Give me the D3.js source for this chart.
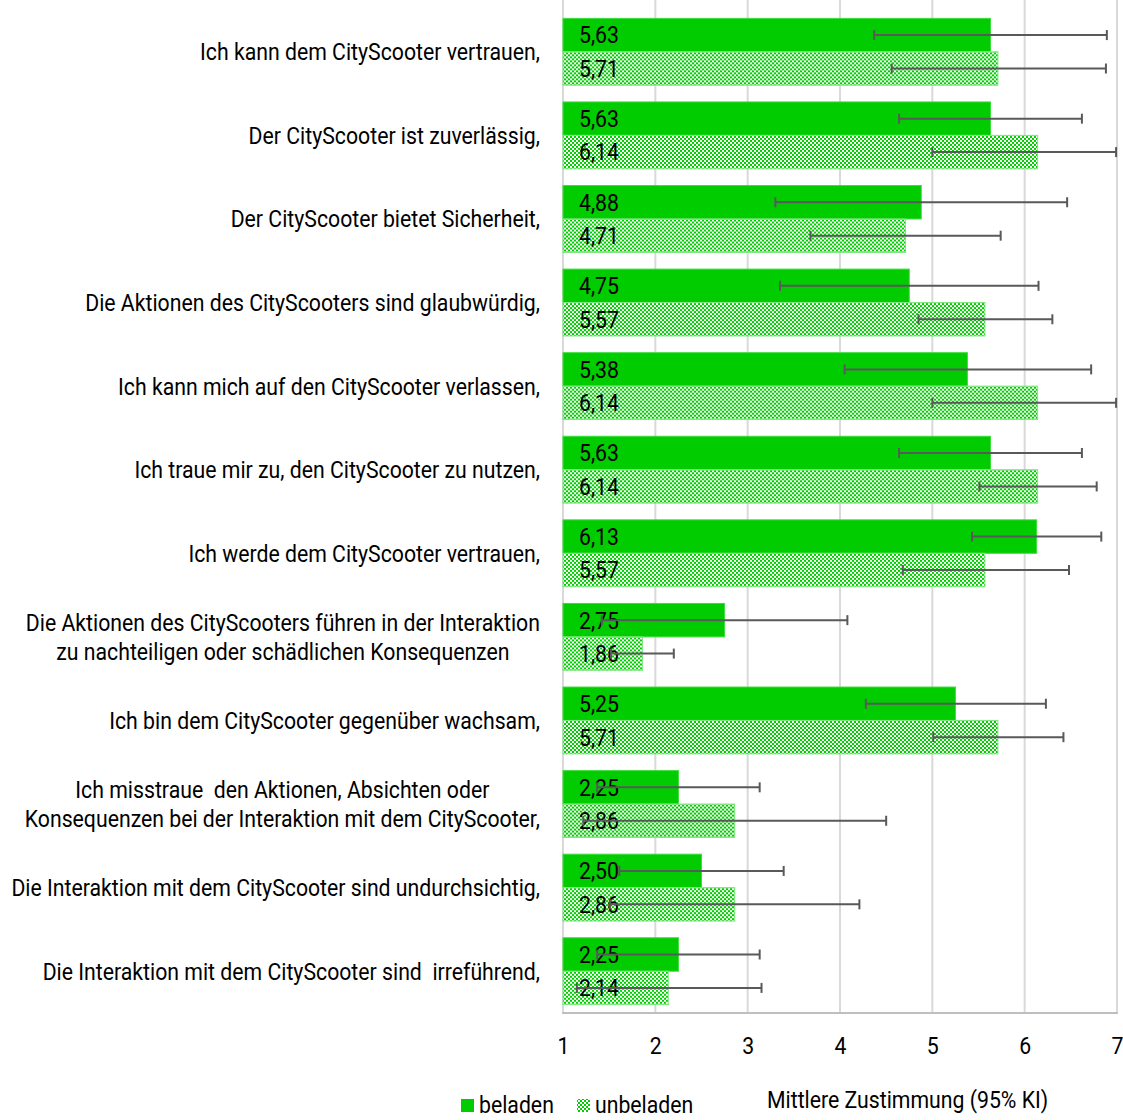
<!DOCTYPE html>
<html><head><meta charset="utf-8">
<script src="https://cdn.jsdelivr.net/npm/d3@7"></script>
<style>
body{margin:0;background:#fff;}
text{font-family:Roboto,"Noto Sans",sans-serif;white-space:pre;}
</style></head>
<body><svg id="chart" width="1123" height="1120"></svg>
<script>
const categories = [
  ["Ich kann dem CityScooter vertrauen,"],
  ["Der CityScooter ist zuverlässig,"],
  ["Der CityScooter bietet Sicherheit,"],
  ["Die Aktionen des CityScooters sind glaubwürdig,"],
  ["Ich kann mich auf den CityScooter verlassen,"],
  ["Ich traue mir zu, den CityScooter zu nutzen,"],
  ["Ich werde dem CityScooter vertrauen,"],
  ["Die Aktionen des CityScooters führen in der Interaktion","zu nachteiligen oder schädlichen Konsequenzen"],
  ["Ich bin dem CityScooter gegenüber wachsam,"],
  ["Ich misstraue  den Aktionen, Absichten oder","Konsequenzen bei der Interaktion mit dem CityScooter,"],
  ["Die Interaktion mit dem CityScooter sind undurchsichtig,"],
  ["Die Interaktion mit dem CityScooter sind  irreführend,"]
];
const seriesNames = ["beladen","unbeladen"];
const beladen      = [5.63,5.63,4.88,4.75,5.38,5.63,6.13,2.75,5.25,2.25,2.50,2.25];
const beladenLow   = [4.37,4.64,3.30,3.35,4.05,4.64,5.43,1.42,4.28,1.37,1.61,1.37];
const beladenHigh  = [6.89,6.62,6.46,6.15,6.72,6.62,6.83,4.08,6.23,3.13,3.39,3.13];
const unbeladen    = [5.71,6.14,4.71,5.57,6.14,6.14,5.57,1.86,5.71,2.86,2.86,2.14];
const unbeladenLow = [4.56,5.00,3.68,4.85,5.00,5.51,4.68,1.52,5.01,1.22,1.51,1.15];
const unbeladenHigh= [6.88,6.99,5.74,6.30,6.99,6.78,6.48,2.20,6.42,4.50,4.21,3.15];
const xTicks = [1,2,3,4,5,6,7];
const axisTitle = "Mittlere Zustimmung (95% KI)";

const svg = d3.select("#chart");
const mLeft = 563, mRight = 1117, mTop = 10, mBottom = 1013;
const green = "#00cc00";
const FS = 24, SX = 0.885;   // condensed look

const defs = svg.append("defs");
const pat = defs.append("pattern").attr("id","checker").attr("patternUnits","userSpaceOnUse")
  .attr("width",4).attr("height",4);
pat.append("rect").attr("width",4).attr("height",4).attr("fill","#fff");
pat.append("rect").attr("x",0).attr("y",0).attr("width",2).attr("height",2).attr("fill",green);
pat.append("rect").attr("x",2).attr("y",2).attr("width",2).attr("height",2).attr("fill",green);

const x = d3.scaleLinear().domain([1,7]).range([mLeft,mRight]);
const y = d3.scaleBand().domain(d3.range(categories.length)).range([mTop,mBottom]).paddingInner(0.2).paddingOuter(0.1);
const ys = d3.scaleBand().domain(seriesNames).range([0,y.bandwidth()]);

function ctext(parent, tx, ty, str, anchor){
  const gg = parent.append("g").attr("transform",`translate(${tx},${ty}) scale(${SX},1)`);
  return gg.append("text").attr("x",0).attr("y",0).attr("dy","0.35em")
    .attr("font-size",FS).attr("fill","#000").attr("text-anchor",anchor||"start").text(str);
}

// gridlines
svg.append("g").selectAll("line").data(xTicks.slice(1)).join("line")
  .attr("x1",d=>x(d)).attr("x2",d=>x(d)).attr("y1",0).attr("y2",mBottom)
  .attr("stroke","#d9d9d9").attr("stroke-width",2);
svg.append("line").attr("x1",mLeft).attr("x2",mLeft).attr("y1",0).attr("y2",mBottom)
  .attr("stroke","#d9d9d9").attr("stroke-width",2);

const rows = categories.map((c,i)=>({i,
  vals:[{s:"beladen",v:beladen[i],lo:beladenLow[i],hi:beladenHigh[i]},
        {s:"unbeladen",v:unbeladen[i],lo:unbeladenLow[i],hi:unbeladenHigh[i]}]}));

const g = svg.append("g").selectAll("g").data(rows).join("g")
  .attr("transform",d=>`translate(0,${y(d.i)})`);
g.selectAll("rect").data(d=>d.vals).join("rect")
  .attr("x",x(1)).attr("y",d=>ys(d.s)).attr("width",d=>x(d.v)-x(1)).attr("height",ys.bandwidth())
  .attr("fill",d=>d.s==="beladen"?green:"url(#checker)")
  .attr("stroke",d=>d.s==="beladen"?"#3ddc3d":"#7fe67f").attr("stroke-width",1);
g.each(function(d){
  const gg = d3.select(this);
  d.vals.forEach(v=>ctext(gg, 579, ys(v.s)+ys.bandwidth()/2, v.v.toFixed(2).replace(".",",")));
});
const eb = g.selectAll("g.eb").data(d=>d.vals).join("g").attr("class","eb")
  .attr("stroke","#595959").attr("stroke-width",2);
eb.append("line").attr("x1",d=>x(d.lo)).attr("x2",d=>x(d.hi))
  .attr("y1",d=>ys(d.s)+ys.bandwidth()/2).attr("y2",d=>ys(d.s)+ys.bandwidth()/2);
eb.append("line").attr("x1",d=>x(d.lo)).attr("x2",d=>x(d.lo))
  .attr("y1",d=>ys(d.s)+ys.bandwidth()/2-5).attr("y2",d=>ys(d.s)+ys.bandwidth()/2+5);
eb.append("line").attr("x1",d=>x(d.hi)).attr("x2",d=>x(d.hi))
  .attr("y1",d=>ys(d.s)+ys.bandwidth()/2-5).attr("y2",d=>ys(d.s)+ys.bandwidth()/2+5);

svg.append("line").attr("x1",mLeft-1).attr("x2",mRight+1).attr("y1",mBottom).attr("y2",mBottom)
  .attr("stroke","#bfbfbf").attr("stroke-width",2);

const xAxis = d3.axisBottom(x).tickValues(xTicks).tickSize(0).tickPadding(24).tickFormat(d3.format("d"));
const ax = svg.append("g").attr("transform",`translate(0,${mBottom})`).call(xAxis);
ax.select(".domain").remove();
ax.selectAll("text").attr("font-size",FS).attr("fill","#000").attr("font-family","Roboto")
  .attr("transform",`scale(${SX},1)`);

const labelRight = 540;
categories.forEach((lines,i)=>{
  const cy = y(i)+y.bandwidth()/2;
  const lh = 29;
  const gg = svg.append("g");
  const t = gg.append("text").attr("font-size",FS).attr("fill","#000").attr("text-anchor","middle");
  const tsp = lines.map((ln,k)=>t.append("tspan").text(ln).attr("x",0)
      .attr("y", (k-(lines.length-1)/2)*lh).attr("dy","0.35em"));
  const maxW = d3.max(tsp.map(s=>s.node().getComputedTextLength()));
  gg.attr("transform",`translate(${labelRight - maxW*SX/2},${cy}) scale(${SX},1)`);
});

const lg = svg.append("g");
lg.append("rect").attr("x",461).attr("y",1099).attr("width",13).attr("height",13).attr("fill",green);
ctext(lg, 479, 1105, seriesNames[0]);
lg.append("rect").attr("x",577).attr("y",1099).attr("width",13).attr("height",13).attr("fill","url(#checker)");
ctext(lg, 595, 1105, seriesNames[1]);

ctext(svg, 767, 1100, axisTitle);
</script></body></html>
